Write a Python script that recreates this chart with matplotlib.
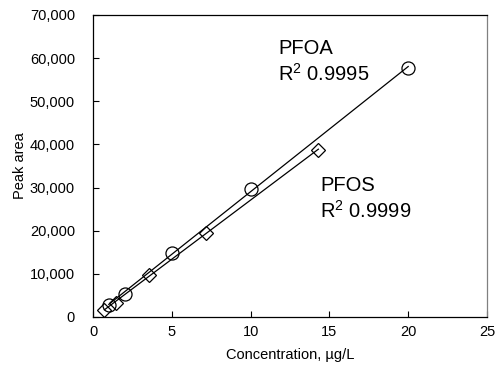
import numpy as np
import matplotlib
matplotlib.use("Agg")
import matplotlib.pyplot as plt
from matplotlib.ticker import FuncFormatter

pfoa_conc = [1, 2, 5, 10, 20]
pfoa_area = [2800, 5300, 14900, 29700, 57700]
pfos_conc = [0.72, 1.43, 3.57, 7.14, 14.3]
pfos_area = [1700, 3300, 9700, 19400, 38800]

x_ticks = [0, 5, 10, 15, 20, 25]
y_ticks = [0, 10000, 20000, 30000, 40000, 50000, 60000, 70000]

plt.rcParams['font.family'] = ['Liberation Sans', 'DejaVu Sans']
plt.rcParams['mathtext.fontset'] = 'custom'
plt.rcParams['mathtext.rm'] = 'Liberation Sans'
plt.rcParams['mathtext.it'] = 'Liberation Sans'
plt.rcParams['mathtext.bf'] = 'Liberation Sans:bold'

fig = plt.figure(figsize=(4.97, 3.74), dpi=100)
ax = fig.add_axes([93/497, 1 - 317/374, (487-93)/497, (317-15)/374])

for xs, ys, mk, ms in [(pfoa_conc, pfoa_area, 'o', 9.4), (pfos_conc, pfos_area, 'D', 7.6)]:
    xs = np.array(xs); ys = np.array(ys)
    m, b = np.polyfit(xs, ys, 1)
    xl = np.array([xs.min(), xs.max()])
    ax.plot(xl, m * xl + b, color='black', lw=0.9, zorder=2)
    ax.plot(xs, ys, linestyle='none', marker=mk, ms=ms, mfc='none', mec='black', mew=0.9, zorder=3)

ax.set_xlim(0, 25)
ax.set_ylim(0, 70000)
ax.set_xticks(x_ticks)
ax.set_yticks(y_ticks)
ax.yaxis.set_major_formatter(FuncFormatter(lambda v, p: f"{int(v):,}"))
ax.tick_params(direction='in', length=4, width=0.8, labelsize=10.5, colors='black')
ax.tick_params(axis='y', pad=13)
ax.tick_params(axis='x', pad=6)
for s in ax.spines.values():
    s.set_linewidth(0.9)
ax.spines['right'].set_color('#808080')

ax.set_xlabel('Concentration, µg/L', fontsize=10.5, labelpad=6)
ax.set_ylabel('Peak area', fontsize=10.5, labelpad=2)

ax.text(11.75, 62200, 'PFOA', fontsize=14.5, va='center', ha='left')
ax.text(11.75, 56300, r'R$^{\mathrm{2}}$ 0.9995', fontsize=14.5, va='center', ha='left')
ax.text(14.4, 30500, 'PFOS', fontsize=14.5, va='center', ha='left')
ax.text(14.4, 24500, r'R$^{\mathrm{2}}$ 0.9999', fontsize=14.5, va='center', ha='left')

fig.savefig('out.png', dpi=100)
